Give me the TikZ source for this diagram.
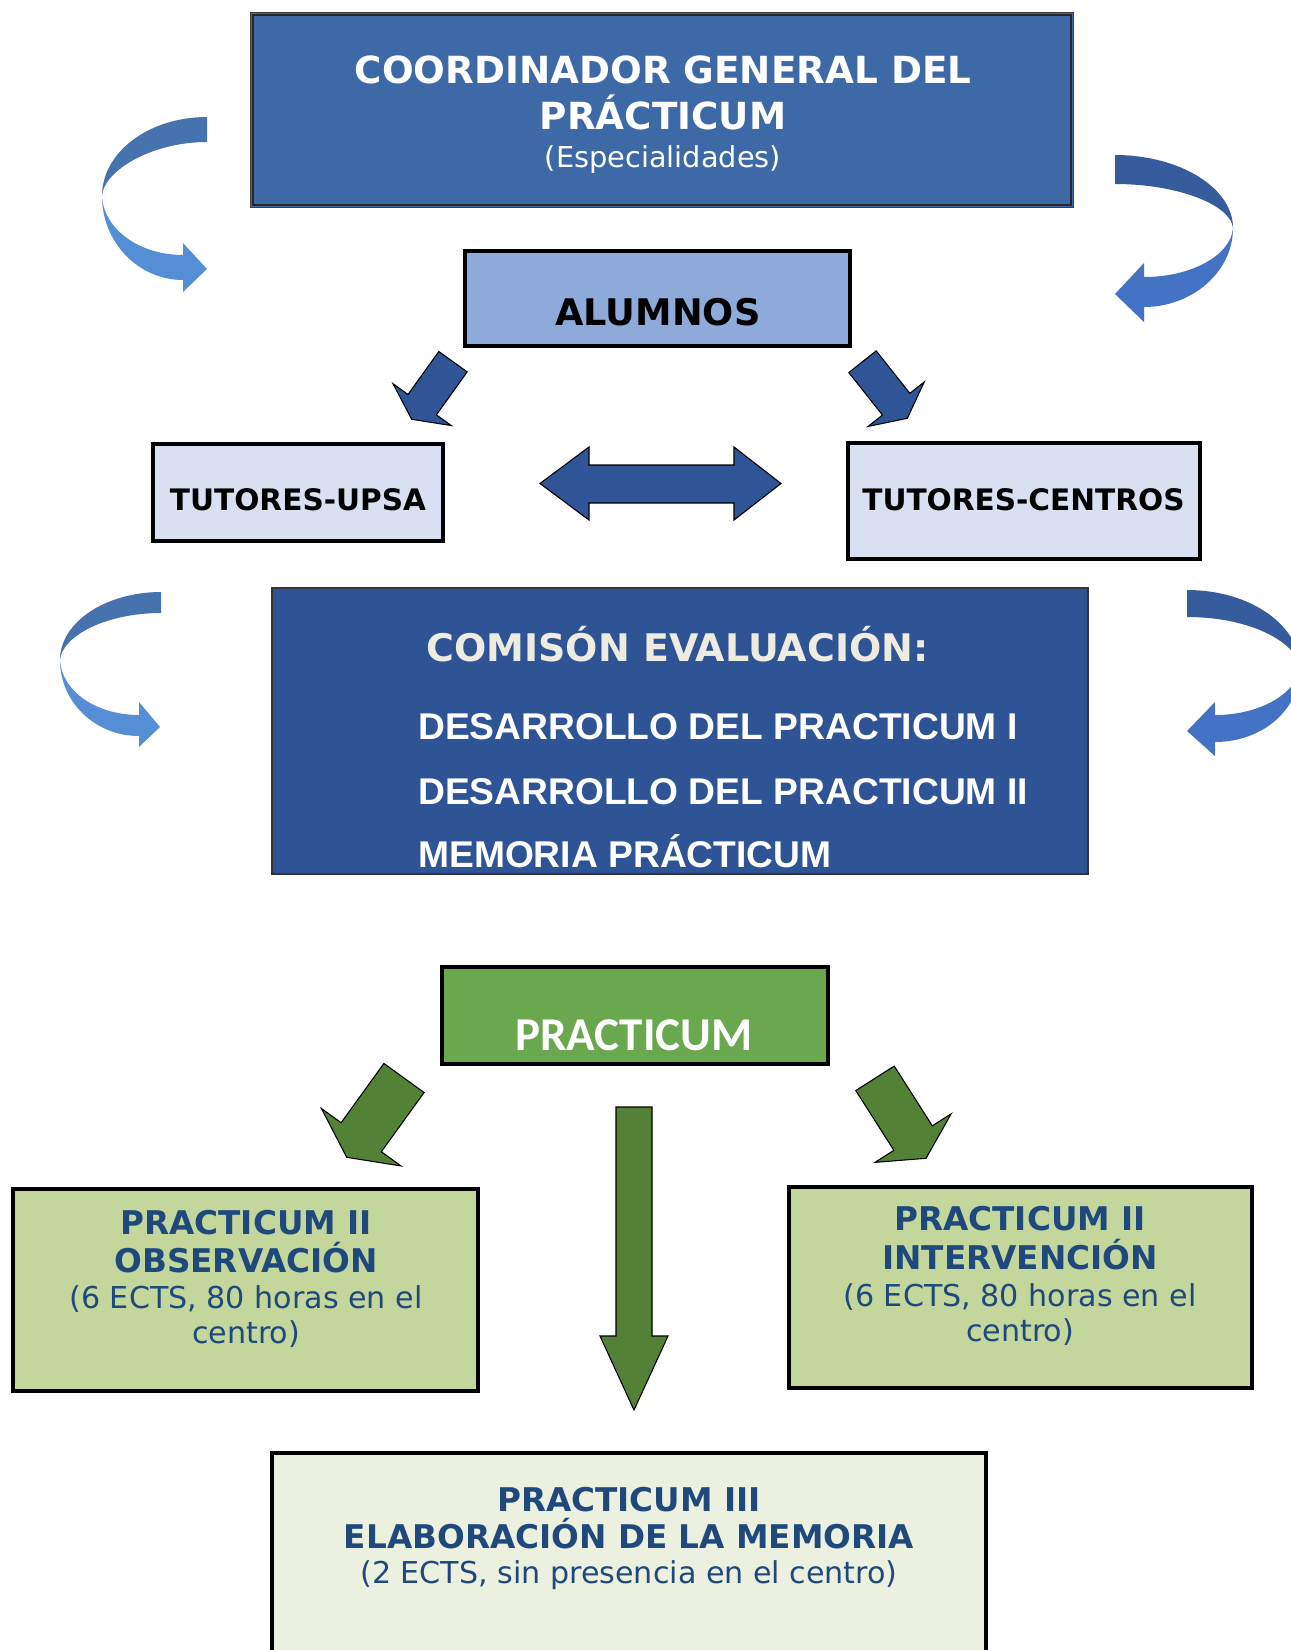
\documentclass[tikz,border=0pt]{standalone}
\usepackage{fontspec}
\setmainfont{DejaVu Sans}
\newfontfamily\arialfont{Liberation Sans}
\newfontfamily\califont{Carlito}
\usetikzlibrary{calc,fit}
\definecolor{coordblue}{HTML}{3D6AA6}
\definecolor{alumblue}{HTML}{8EAADB}
\definecolor{tutorfill}{HTML}{D9E0F2}
\definecolor{arrowblue}{HTML}{2F5597}
\definecolor{comblue}{HTML}{2F5496}
\definecolor{cream}{HTML}{EEECE1}
\definecolor{pracgreen}{HTML}{6AA84F}
\definecolor{arrowgreen}{HTML}{538135}
\definecolor{piifill}{HTML}{C3D69B}
\definecolor{piiifill}{HTML}{EBF1DE}
\definecolor{darktext}{HTML}{1F497D}
\definecolor{lTop}{HTML}{4673AE}
\definecolor{lBot}{HTML}{558ED5}
\definecolor{rTop}{HTML}{375C9E}
\definecolor{rBot}{HTML}{4472C4}
\newcommand{\blockarrow}[6]{%
  \coordinate (#2-#3-b) at ($(#3)!#6!(#2)$);
  \draw[#1] ($(#2)!#4!90:(#3)$) -- ($(#2-#3-b)!#4!90:(#3)$) -- ($(#2-#3-b)!#5!90:(#3)$)
    -- (#3) -- ($(#2-#3-b)!#5!-90:(#3)$) -- ($(#2-#3-b)!#4!-90:(#3)$)
    -- ($(#2)!#4!-90:(#3)$) -- cycle;}
\tikzset{
  thickbox/.style={draw=black, line width=3pt, inner sep=0pt},
  blockblue/.style={fill=arrowblue, draw=black, line width=0.8pt, line join=miter},
  blockgreen/.style={fill=arrowgreen, draw=black, line width=0.8pt, line join=miter},
  bigtitle/.style={font=\fontsize{28pt}{33pt}\selectfont\bfseries, text=white, anchor=base, inner sep=0pt},
  subwhite/.style={font=\fontsize{21.6pt}{26pt}\selectfont, text=white, anchor=base, inner sep=0pt},
  tutortext/.style={font=\fontsize{22.2pt}{26pt}\selectfont\bfseries, text=black, anchor=base, inner sep=0pt},
  arialline/.style={font=\arialfont\fontsize{27.9pt}{33pt}\selectfont\bfseries, text=white, anchor=base west, inner sep=0pt},
  ptitle/.style={font=\fontsize{24.5pt}{29pt}\selectfont\bfseries, text=darktext, anchor=base, inner sep=0pt},
  pnorm/.style={font=\fontsize{22.6pt}{27pt}\selectfont, text=darktext, anchor=base, inner sep=0pt},
}
\begin{document}
\begin{tikzpicture}[x=0.75pt,y=-0.75pt]
\useasboundingbox (0,0) rectangle (1291,1650);
\clip (0,0) rectangle (1291,1650);

% ---------- Coordinator box ----------
\node[fit={(250,12)(1073,207)}, inner sep=0pt, fill=coordblue, draw=black!75, line width=0.75pt] (coord) {};
\draw[line width=1.5pt, black!85] ($(coord.north west)+(3,3)$) rectangle ($(coord.south east)+(-3,-3)$);
\node[bigtitle] (coordA) at (663,83) {COORDINADOR GENERAL DEL};
\node[bigtitle] (coordB) at (663,129) {PRÁCTICUM};
\node[subwhite] (coordC) at (663,167) {(Especialidades)};

% ---------- curved arrows, top ----------
\fill[lTop] (207,117) .. controls (149,117) and (102,152) .. (102,196)
  .. controls (103,172) and (150,142) .. (207,142) -- cycle;
\fill[lBot] (102,196) .. controls (102,242) and (138,280) .. (183,280) -- (183,292) -- (207,269)
  -- (183,243) -- (183,255) .. controls (140,255) and (104,230) .. (102,196) -- cycle;
\fill[rTop] (1115,155) .. controls (1180,155) and (1233,188) .. (1233,228)
  .. controls (1231,205) and (1178,184) .. (1115,184) -- cycle;
\fill[rBot] (1233,228) .. controls (1233,272) and (1192,307) .. (1144,307) -- (1144,322) -- (1115,294)
  -- (1144,263) -- (1144,277) .. controls (1192,277) and (1231,255) .. (1233,228) -- cycle;

% ---------- ALUMNOS ----------
\node[thickbox, fill=alumblue, fit={(465,251)(850,346)}] (alum) {};
\node[font=\fontsize{27.5pt}{33pt}\selectfont\bfseries, anchor=base, inner sep=0pt] (alumT) at (658,325) {ALUMNOS};

\coordinate (aLt) at (453,361.7);
\coordinate (aLp) at (411.7,419.3);
\coordinate (aRt) at (862.5,361.7);
\coordinate (aRp) at (907.3,418.3);
\blockarrow{blockblue}{aLt}{aLp}{13.1pt}{26.9pt}{13.5pt}
\blockarrow{blockblue}{aRt}{aRp}{13.1pt}{26.9pt}{13.5pt}

% ---------- tutors ----------
\node[thickbox, fill=tutorfill, fit={(153,444)(443,541)}] (tupsa) {};
\node[tutortext] (tupsaT) at (298,510) {TUTORES-UPSA};
\node[thickbox, fill=tutorfill, fit={(848,443)(1199.7,558.7)}] (tcen) {};
\node[tutortext] (tcenT) at (1023.5,510) {TUTORES-CENTROS};

\draw[blockblue] (540,483.5) -- (589,447) -- (589,465) -- (734,465) -- (734,447) -- (781,483.5)
  -- (734,520) -- (734,503) -- (589,503) -- (589,520) -- cycle;

% ---------- curved arrows, middle ----------
\fill[lTop] (161,592) .. controls (106,592) and (60,622) .. (60,660)
  .. controls (62,636) and (106,613) .. (161,613) -- cycle;
\fill[lBot] (60,660) .. controls (60,702) and (95,736) .. (139,736) -- (139,747) -- (160,727)
  -- (139,702) -- (139,715) .. controls (97,715) and (62,692) .. (60,660) -- cycle;
\fill[rTop] (1187,590) .. controls (1250,590) and (1300,625) .. (1300,668)
  .. controls (1297,642) and (1250,617) .. (1187,617) -- cycle;
\fill[rBot] (1300,668) .. controls (1300,710) and (1262,742) .. (1215,742) -- (1215,756) -- (1187,731)
  -- (1215,702) -- (1215,715) .. controls (1262,715) and (1297,692) .. (1300,668) -- cycle;

% ---------- Comision ----------
\node[fit={(272,588)(1088,874)}, inner sep=0pt, fill=comblue, draw=black!80, line width=1.2pt] (com) {};
\node[font=\fontsize{28.5pt}{33pt}\selectfont\bfseries, text=cream, anchor=base west, inner sep=0pt] (comT) at (426,661) {COMISÓN EVALUACIÓN:};
\node[arialline] (comA) at (418,739) {DESARROLLO DEL PRACTICUM I};
\node[arialline] (comB) at (418,804) {DESARROLLO DEL PRACTICUM II};
\node[arialline] (comC) at (418,867) {MEMORIA PRÁCTICUM};

% ---------- PRACTICUM ----------
\node[thickbox, fill=pracgreen, fit={(442,967)(828,1064)}] (prac) {};
\node[font=\califont\fontsize{35.3pt}{40pt}\selectfont\bfseries, text=white, anchor=base, inner sep=0pt] (pracT) at (634,1050) {PRACTICUM};

\coordinate (gLt) at (404,1078);
\coordinate (gLp) at (346.7,1157.3);
\coordinate (gRt) at (875,1078.3);
\coordinate (gRp) at (926,1158.3);
\coordinate (gMt) at (634,1107);
\coordinate (gMp) at (634,1410);
\blockarrow{blockgreen}{gLt}{gLp}{18.6pt}{36.8pt}{18.6pt}
\blockarrow{blockgreen}{gRt}{gRp}{17.1pt}{33.9pt}{18pt}
\blockarrow{blockgreen}{gMt}{gMp}{13.5pt}{25.5pt}{55.5pt}

% ---------- Practicum II boxes ----------
\node[thickbox, fill=piifill, fit={(13,1189)(478,1391)}] (pobs) {};
\node[ptitle] (pobsA) at (246,1234) {PRACTICUM II};
\node[ptitle] (pobsB) at (246,1272) {OBSERVACIÓN};
\node[pnorm] (pobsC) at (246,1308) {(6 ECTS, 80 horas en el};
\node[pnorm] (pobsD) at (246,1343) {centro)};

\node[thickbox, fill=piifill, fit={(789,1187)(1252,1388)}] (pint) {};
\node[ptitle] (pintA) at (1020,1230) {PRACTICUM II};
\node[ptitle] (pintB) at (1020,1269) {INTERVENCIÓN};
\node[pnorm] (pintC) at (1020,1306) {(6 ECTS, 80 horas en el};
\node[pnorm] (pintD) at (1020,1341) {centro)};

% ---------- Practicum III ----------
\node[thickbox, fill=piiifill, fit={(272,1453)(986,1700)}] (piii) {};
\node[ptitle] (piiiA) at (629,1511) {PRACTICUM III};
\node[ptitle] (piiiB) at (629,1548) {ELABORACIÓN DE LA MEMORIA};
\node[pnorm] (piiiC) at (629,1583) {(2 ECTS, sin presencia en el centro)};
\end{tikzpicture}
\end{document}
